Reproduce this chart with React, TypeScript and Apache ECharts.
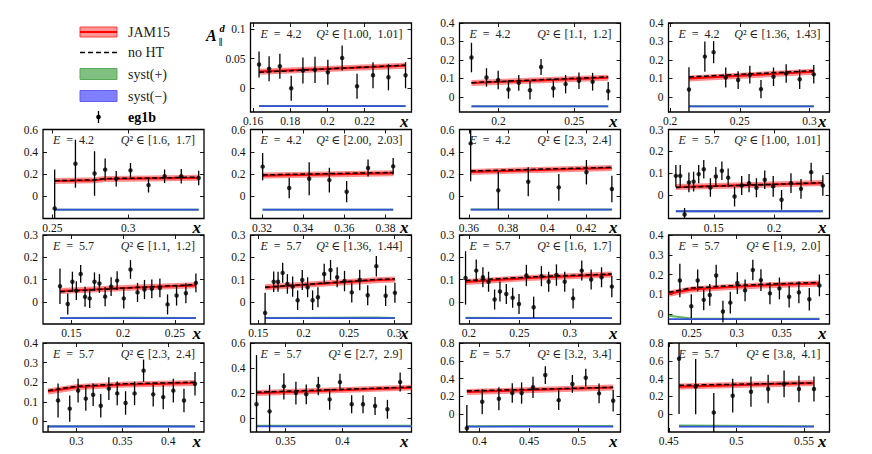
import React, { useEffect, useRef } from "react";
import * as echarts from "echarts";

const FONT = "Liberation Serif, DejaVu Serif, serif";

// ---- panel labels ----
const energy = ["4.2", "4.2", "4.2", "4.2", "4.2", "4.2", "5.7", "5.7", "5.7", "5.7", "5.7", "5.7", "5.7", "5.7", "5.7"];
const q2Bins = [
  "[1.00,  1.01]", "[1.1,  1.2]", "[1.36,  1.43]", "[1.6,  1.7]", "[2.00,  2.03]", "[2.3,  2.4]",
  "[1.00,  1.01]", "[1.1,  1.2]", "[1.36,  1.44]", "[1.6,  1.7]", "[1.9,  2.0]", "[2.3,  2.4]",
  "[2.7,  2.9]", "[3.2,  3.4]", "[3.8,  4.1]",
];

// ---- axis ranges and ticks ----
const xRanges = [
  [0.1586, 0.2452], [0.1743, 0.2805], [0.1988, 0.3144],
  [0.2438, 0.35], [0.3144, 0.3926], [0.3552, 0.4374], [0.1125, 0.2458],
  [0.1226, 0.2781], [0.1414, 0.319], [0.1907, 0.3503], [0.2243, 0.403],
  [0.2636, 0.4389], [0.3191, 0.4609], [0.3798, 0.5421], [0.4498, 0.5689],
];
const yRanges = [
  [-0.04, 0.11], [-0.082, 0.4], [-0.082, 0.4],
  [-0.2, 0.6], [-0.2, 0.6], [-0.2, 0.6], [-0.105, 0.3],
  [-0.1, 0.3], [-0.1, 0.3], [-0.1, 0.3], [-0.05, 0.4],
  [-0.054, 0.4], [-0.106, 0.6], [-0.2, 0.8], [-0.2, 0.8],
];
const xTicks = [
  [0.16, 0.18, 0.2, 0.22], [0.2, 0.25], [0.2, 0.25, 0.3],
  [0.25, 0.3], [0.32, 0.34, 0.36, 0.38], [0.36, 0.38, 0.4, 0.42], [0.15, 0.2],
  [0.15, 0.2, 0.25], [0.15, 0.2, 0.25, 0.3], [0.2, 0.25, 0.3], [0.25, 0.3, 0.35],
  [0.3, 0.35, 0.4], [0.35, 0.4], [0.4, 0.45, 0.5], [0.45, 0.5, 0.55],
];
const yTicks = [
  [0, 0.05, 0.1], [0, 0.1, 0.2, 0.3, 0.4], [0, 0.1, 0.2, 0.3, 0.4],
  [0, 0.2, 0.4, 0.6], [0, 0.2, 0.4, 0.6], [0, 0.2, 0.4, 0.6], [0, 0.1, 0.2, 0.3],
  [0, 0.1, 0.2, 0.3], [0, 0.1, 0.2, 0.3], [0, 0.1, 0.2, 0.3], [0, 0.1, 0.2, 0.3, 0.4],
  [0, 0.1, 0.2, 0.3, 0.4], [0, 0.2, 0.4, 0.6], [0, 0.2, 0.4, 0.6, 0.8], [0, 0.2, 0.4, 0.6, 0.8],
];

// ---- eg1b data: x, A_par, error ----
const x1 = [0.1632, 0.1686, 0.1744, 0.1805, 0.1868, 0.1933, 0.2002, 0.2079, 0.2159, 0.2245, 0.2328, 0.242];
const y1 = [0.04, 0.033, 0.037, 0.0, 0.03, 0.031, 0.027, 0.051, 0.0035, 0.022, 0.0185, 0.022];
const e1 = [0.022, 0.021, 0.021, 0.021, 0.022, 0.022, 0.021, 0.021, 0.021, 0.022, 0.022, 0.022];

const x2 = [0.1822, 0.1921, 0.1998, 0.2066, 0.2134, 0.2208, 0.2281, 0.2362, 0.2443, 0.2531, 0.2621, 0.2724];
const y2 = [0.213, 0.105, 0.091, 0.04, 0.076, 0.036, 0.162, 0.047, 0.069, 0.087, 0.082, 0.031];
const e2 = [0.08, 0.05, 0.05, 0.05, 0.043, 0.05, 0.043, 0.05, 0.05, 0.045, 0.048, 0.05];

const x3 = [0.2135, 0.2249, 0.2312, 0.2399, 0.2488, 0.2572, 0.2652, 0.2742, 0.2833, 0.293, 0.3031];
const y3 = [0.04, 0.218, 0.242, 0.105, 0.091, 0.12, 0.042, 0.109, 0.127, 0.095, 0.122];
const e3 = [0.12, 0.082, 0.06, 0.054, 0.048, 0.048, 0.049, 0.05, 0.05, 0.053, 0.05];

const x4 = [0.2515, 0.2652, 0.2778, 0.2848, 0.2921, 0.3015, 0.3134, 0.324, 0.335, 0.3465];
const y4 = [-0.109, 0.292, 0.204, 0.239, 0.157, 0.233, 0.1, 0.18, 0.18, 0.165];
const e4 = [0.35, 0.215, 0.2, 0.1, 0.07, 0.065, 0.066, 0.06, 0.065, 0.065];

const x5 = [0.3203, 0.3332, 0.3429, 0.3527, 0.3611, 0.3715, 0.3837];
const y5 = [0.266, 0.074, 0.157, 0.145, 0.041, 0.254, 0.269];
const e5 = [0.123, 0.093, 0.148, 0.111, 0.096, 0.076, 0.074];

const x6 = [0.3609, 0.375, 0.3903, 0.4059, 0.42, 0.433];
const y6 = [0.475, 0.053, 0.13, 0.08, 0.216, 0.065];
const e6 = [0.34, 0.17, 0.13, 0.12, 0.11, 0.12];

const x7 = [0.1186, 0.1222, 0.1258, 0.1294, 0.1333, 0.1375, 0.1417, 0.1472, 0.1517, 0.1567, 0.1619, 0.1672, 0.1731, 0.1792, 0.1853, 0.1922, 0.1992, 0.2061, 0.2139, 0.2222, 0.2306, 0.2403];
const y7 = [0.089, 0.089, -0.087, 0.059, 0.063, 0.097, 0.119, 0.036, 0.086, 0.112, 0.081, -0.005, 0.045, 0.056, 0.035, 0.071, 0.041, -0.02, 0.056, 0.03, 0.106, 0.045];
const e7 = [0.05, 0.05, 0.03, 0.045, 0.045, 0.042, 0.042, 0.042, 0.043, 0.042, 0.042, 0.045, 0.043, 0.041, 0.043, 0.042, 0.047, 0.045, 0.045, 0.045, 0.043, 0.047];

const x8 = [0.139, 0.1465, 0.151, 0.1548, 0.159, 0.1632, 0.1677, 0.1723, 0.1771, 0.1826, 0.1884, 0.1942, 0.2006, 0.2071, 0.2139, 0.2206, 0.2277, 0.2355, 0.2429, 0.2516, 0.2606, 0.2703];
const y8 = [0.07, -0.01, 0.09, 0.05, 0.125, 0.022, 0.015, 0.09, 0.082, 0.023, 0.068, 0.095, 0.015, 0.145, 0.042, 0.055, 0.058, 0.062, -0.012, 0.028, 0.038, 0.085];
const e8 = [0.08, 0.047, 0.045, 0.042, 0.04, 0.045, 0.043, 0.042, 0.042, 0.043, 0.042, 0.042, 0.045, 0.042, 0.043, 0.043, 0.042, 0.042, 0.045, 0.045, 0.045, 0.042];

const x9 = [0.1575, 0.167, 0.1718, 0.1769, 0.1821, 0.1879, 0.1934, 0.1985, 0.2044, 0.2099, 0.2158, 0.2227, 0.2297, 0.237, 0.2451, 0.2531, 0.2619, 0.2707, 0.2802, 0.2905, 0.3007];
const y9 = [-0.05, 0.09, 0.09, 0.13, 0.08, 0.068, 0.007, 0.098, 0.065, 0.007, 0.02, 0.125, 0.143, 0.11, 0.093, 0.042, 0.098, 0.029, 0.16, 0.027, 0.04];
const e9 = [0.09, 0.046, 0.045, 0.045, 0.044, 0.045, 0.044, 0.045, 0.045, 0.044, 0.045, 0.046, 0.045, 0.045, 0.046, 0.045, 0.046, 0.045, 0.046, 0.046, 0.045];

const x10 = [0.1967, 0.2073, 0.2139, 0.2195, 0.2255, 0.2308, 0.2371, 0.2434, 0.2497, 0.257, 0.2642, 0.2719, 0.2791, 0.2868, 0.295, 0.3033, 0.3119, 0.3212, 0.3315, 0.3417];
const y10 = [0.107, 0.14, 0.11, 0.09, 0.01, 0.046, 0.035, 0.018, -0.01, 0.118, -0.025, 0.115, 0.09, 0.12, 0.09, 0.015, 0.14, 0.1, 0.11, 0.068];
const e10 = [0.12, 0.05, 0.045, 0.045, 0.045, 0.045, 0.045, 0.045, 0.045, 0.048, 0.048, 0.045, 0.045, 0.048, 0.045, 0.045, 0.045, 0.045, 0.045, 0.048];

const x11 = [0.2246, 0.2369, 0.2496, 0.2567, 0.2634, 0.2701, 0.2772, 0.2847, 0.2929, 0.3007, 0.3093, 0.3179, 0.3269, 0.3369, 0.3474, 0.3582, 0.369, 0.3806, 0.3918];
const y11 = [0.45, 0.17, 0.04, 0.17, 0.072, 0.097, 0.195, 0.013, 0.058, 0.157, 0.12, 0.223, 0.172, 0.105, 0.13, 0.088, 0.11, 0.075, 0.145];
const e11 = [0.34, 0.085, 0.06, 0.055, 0.053, 0.055, 0.055, 0.055, 0.055, 0.055, 0.055, 0.052, 0.055, 0.055, 0.055, 0.055, 0.055, 0.057, 0.055];

const x12 = [0.2691, 0.28, 0.2927, 0.3018, 0.3102, 0.3182, 0.3265, 0.3353, 0.3444, 0.3535, 0.3633, 0.3731, 0.3836, 0.3945, 0.4055, 0.4171, 0.4291];
const y12 = [-0.1, 0.107, 0.065, 0.157, 0.116, 0.136, 0.08, 0.167, 0.143, 0.094, 0.143, 0.259, 0.138, 0.124, 0.157, 0.107, 0.192];
const e12 = [0.08, 0.087, 0.067, 0.061, 0.062, 0.058, 0.06, 0.058, 0.06, 0.06, 0.06, 0.057, 0.062, 0.062, 0.061, 0.06, 0.06];

const x13 = [0.3244, 0.3359, 0.3485, 0.3591, 0.3682, 0.3788, 0.3888, 0.3979, 0.4082, 0.4182, 0.4288, 0.4397, 0.4509];
const y13 = [0.114, 0.058, 0.256, 0.203, 0.193, 0.259, 0.153, 0.29, 0.114, 0.114, 0.1, 0.074, 0.29];
const e13 = [0.39, 0.21, 0.105, 0.09, 0.078, 0.074, 0.083, 0.066, 0.072, 0.072, 0.072, 0.075, 0.075];

const x14 = [0.3872, 0.4027, 0.4195, 0.433, 0.4424, 0.4539, 0.4663, 0.4798, 0.4936, 0.5071, 0.5205, 0.5347];
const y14 = [-0.158, 0.14, 0.174, 0.238, 0.238, 0.302, 0.44, 0.158, 0.34, 0.41, 0.234, 0.151];
const e14 = [0.26, 0.14, 0.13, 0.11, 0.12, 0.12, 0.1, 0.11, 0.1, 0.1, 0.11, 0.12];

const x15 = [0.4576, 0.4699, 0.4833, 0.4973, 0.5108, 0.5235, 0.5353, 0.5463, 0.5574];
const y15 = [0.623, 0.31, 0.019, 0.208, 0.253, 0.283, 0.34, 0.283, 0.283];
const e15 = [0.62, 0.31, 0.22, 0.19, 0.17, 0.16, 0.15, 0.15, 0.14];

// ---- theory curves (JAM15, no HT) and systematic bands, at nodes tx ----
const tx1 = [0.1632, 0.242]; const jam1 = [0.028, 0.038]; const nht1 = [0.027, 0.039]; const sp1 = [-0.03, -0.03]; const sm1 = [-0.03, -0.03];
const tx2 = [0.1822, 0.2724]; const jam2 = [0.075, 0.104]; const nht2 = [0.077, 0.108]; const sp2 = [-0.051, -0.051]; const sm2 = [-0.051, -0.051];
const tx3 = [0.2135, 0.3031]; const jam3 = [0.1, 0.136]; const nht3 = [0.108, 0.142]; const sp3 = [-0.051, -0.051]; const sm3 = [-0.051, -0.051];
const tx4 = [0.2515, 0.2778, 0.2848, 0.3134, 0.3465]; const jam4 = [0.137, 0.143, 0.155, 0.16, 0.166]; const nht4 = [0.14, 0.147, 0.16, 0.163, 0.172]; const sp4 = [-0.121, -0.121, -0.121, -0.121, -0.121]; const sm4 = [-0.121, -0.121, -0.121, -0.121, -0.121];
const tx5 = [0.3203, 0.3837]; const jam5 = [0.186, 0.207]; const nht5 = [0.192, 0.214]; const sp5 = [-0.121, -0.121]; const sm5 = [-0.121, -0.121];
const tx6 = [0.3609, 0.433]; const jam6 = [0.219, 0.254]; const nht6 = [0.227, 0.26]; const sp6 = [-0.118, -0.118]; const sm6 = [-0.121, -0.121];
const tx7 = [0.1186, 0.2403]; const jam7 = [0.038, 0.056]; const nht7 = [0.036, 0.058]; const sp7 = [-0.072, -0.072]; const sm7 = [-0.072, -0.072];
const tx8 = [0.139, 0.2071, 0.2703]; const jam8 = [0.048, 0.063, 0.074]; const nht8 = [0.045, 0.063, 0.077]; const sp8 = [-0.073, -0.072, -0.073]; const sm8 = [-0.074, -0.074, -0.074];
const tx9 = [0.1575, 0.2802, 0.3007]; const jam9 = [0.065, 0.097, 0.1]; const nht9 = [0.065, 0.1, 0.103]; const sp9 = [-0.073, -0.071, -0.073]; const sm9 = [-0.074, -0.074, -0.074];
const tx10 = [0.1967, 0.2642, 0.3417]; const jam10 = [0.089, 0.108, 0.122]; const nht10 = [0.095, 0.112, 0.125]; const sp10 = [-0.072, -0.073, -0.073]; const sm10 = [-0.074, -0.074, -0.074];
const tx11 = [0.2246, 0.2496, 0.2929, 0.3269, 0.3918]; const jam11 = [0.103, 0.125, 0.137, 0.145, 0.155]; const nht11 = [0.11, 0.132, 0.143, 0.15, 0.16]; const sp11 = [-0.008, -0.022, -0.023, -0.023, -0.023]; const sm11 = [-0.025, -0.025, -0.025, -0.025, -0.025];
const tx12 = [0.2691, 0.3018, 0.3535, 0.4291]; const jam12 = [0.153, 0.176, 0.188, 0.196]; const nht12 = [0.158, 0.18, 0.192, 0.2]; const sp12 = [-0.025, -0.025, -0.023, -0.025]; const sm12 = [-0.026, -0.026, -0.026, -0.026];
const tx13 = [0.3244, 0.4609]; const jam13 = [0.203, 0.246]; const nht13 = [0.209, 0.251]; const sp13 = [-0.056, -0.057]; const sm13 = [-0.061, -0.061];
const tx14 = [0.3872, 0.5347]; const jam14 = [0.25, 0.3]; const nht14 = [0.262, 0.302]; const sp14 = [-0.134, -0.132]; const sm14 = [-0.14, -0.14];
const tx15 = [0.4576, 0.5574]; const jam15 = [0.31, 0.35]; const nht15 = [0.325, 0.352]; const sp15 = [-0.127, -0.134]; const sm15 = [-0.14, -0.14];

const panels = [
  { x: x1, y: y1, e: e1, tx: tx1, jam: jam1, nht: nht1, sp: sp1, sm: sm1 },
  { x: x2, y: y2, e: e2, tx: tx2, jam: jam2, nht: nht2, sp: sp2, sm: sm2 },
  { x: x3, y: y3, e: e3, tx: tx3, jam: jam3, nht: nht3, sp: sp3, sm: sm3 },
  { x: x4, y: y4, e: e4, tx: tx4, jam: jam4, nht: nht4, sp: sp4, sm: sm4 },
  { x: x5, y: y5, e: e5, tx: tx5, jam: jam5, nht: nht5, sp: sp5, sm: sm5 },
  { x: x6, y: y6, e: e6, tx: tx6, jam: jam6, nht: nht6, sp: sp6, sm: sm6 },
  { x: x7, y: y7, e: e7, tx: tx7, jam: jam7, nht: nht7, sp: sp7, sm: sm7 },
  { x: x8, y: y8, e: e8, tx: tx8, jam: jam8, nht: nht8, sp: sp8, sm: sm8 },
  { x: x9, y: y9, e: e9, tx: tx9, jam: jam9, nht: nht9, sp: sp9, sm: sm9 },
  { x: x10, y: y10, e: e10, tx: tx10, jam: jam10, nht: nht10, sp: sp10, sm: sm10 },
  { x: x11, y: y11, e: e11, tx: tx11, jam: jam11, nht: nht11, sp: sp11, sm: sm11 },
  { x: x12, y: y12, e: e12, tx: tx12, jam: jam12, nht: nht12, sp: sp12, sm: sm12 },
  { x: x13, y: y13, e: e13, tx: tx13, jam: jam13, nht: nht13, sp: sp13, sm: sm13 },
  { x: x14, y: y14, e: e14, tx: tx14, jam: jam14, nht: nht14, sp: sp14, sm: sm14 },
  { x: x15, y: y15, e: e15, tx: tx15, jam: jam15, nht: nht15, sp: sp15, sm: sm15 },
];

// ---- layout ----
const COL_LEFT = [43, 250.5, 459.5, 668.5];
const ROW_TOP = [23, 129.5, 235, 343];
const W = 161;
const H = 89;

const fmt = (v: number) => String(parseFloat(Number(v).toFixed(4)));

function buildOption() {
  const grid: any[] = [];
  const xAxis: any[] = [];
  const yAxis: any[] = [];
  const series: any[] = [];
  const graphic: any[] = [];

  const tick = { inside: true, length: 4, lineStyle: { color: "#000", width: 0.9 } };
  const label = { color: "#111", fontFamily: FONT, fontSize: 11.5 };
  const noLine = { show: false, onZero: false };

  panels.forEach((p, i) => {
    const row = i < 3 ? 0 : Math.floor((i - 3) / 4) + 1;
    const col = i < 3 ? i + 1 : (i - 3) % 4;
    const left = COL_LEFT[col];
    const top = ROW_TOP[row];

    grid.push({
      left, top, width: W, height: H, show: true,
      borderColor: "#000", borderWidth: 1.3, backgroundColor: "rgba(0,0,0,0)",
      outerBoundsMode: "none", containLabel: false,
    });

    const [xmin, xmax] = xRanges[i];
    const [ymin, ymax] = yRanges[i];
    xAxis.push({
      type: "value", gridIndex: i, position: "bottom", min: xmin, max: xmax,
      axisLine: noLine, splitLine: { show: false },
      axisTick: { ...tick, customValues: xTicks[i] },
      axisLabel: { ...label, customValues: xTicks[i], formatter: fmt, margin: 3 },
    });
    xAxis.push({
      type: "value", gridIndex: i, position: "top", min: xmin, max: xmax,
      axisLine: noLine, splitLine: { show: false },
      axisTick: { ...tick, customValues: xTicks[i] },
      axisLabel: { show: false },
    });
    yAxis.push({
      type: "value", gridIndex: i, position: "left", min: ymin, max: ymax,
      axisLine: noLine, splitLine: { show: false },
      axisTick: { ...tick, customValues: yTicks[i] },
      axisLabel: { ...label, customValues: yTicks[i], formatter: fmt, margin: 5 },
    });
    yAxis.push({
      type: "value", gridIndex: i, position: "right", min: ymin, max: ymax,
      axisLine: noLine, splitLine: { show: false },
      axisTick: { ...tick, customValues: yTicks[i] },
      axisLabel: { show: false },
    });

    const xi = 2 * i;
    const yi = 2 * i;
    const common = { xAxisIndex: xi, yAxisIndex: yi, symbol: "none", silent: true, clip: true };

    series.push({ ...common, type: "line", z: 2, data: p.tx.map((x, k) => [x, p.sp[k]]), lineStyle: { color: "#5db55d", width: 2 } });
    series.push({ ...common, type: "line", z: 3, data: p.tx.map((x, k) => [x, p.sm[k]]), lineStyle: { color: "#3550d8", width: 1.8 } });
    series.push({ ...common, type: "line", z: 4, data: p.tx.map((x, k) => [x, p.jam[k]]), lineStyle: { color: "rgba(255,50,50,0.55)", width: 6 } });
    series.push({ ...common, type: "line", z: 5, data: p.tx.map((x, k) => [x, p.jam[k]]), lineStyle: { color: "#ff0000", width: 2.2 } });
    series.push({ ...common, type: "line", z: 6, data: p.tx.map((x, k) => [x, p.nht[k]]), lineStyle: { color: "#000", width: 1.5, type: [5, 2.5] } });
    series.push({
      type: "custom", xAxisIndex: xi, yAxisIndex: yi, z: 7, clip: true, silent: true,
      encode: { x: 0, y: [1, 2] },
      data: p.x.map((x, k) => [x, p.y[k] - p.e[k], p.y[k] + p.e[k]]),
      renderItem: (params: any, api: any) => {
        const x = api.value(0);
        const lo = api.coord([x, api.value(1)]);
        const hi = api.coord([x, api.value(2)]);
        return {
          type: "line",
          shape: { x1: lo[0], y1: lo[1], x2: hi[0], y2: hi[1] },
          style: { stroke: "#000", lineWidth: 1.3 },
        };
      },
    });
    series.push({
      type: "scatter", xAxisIndex: xi, yAxisIndex: yi, z: 8, clip: true, silent: true,
      symbol: "circle", symbolSize: 4.5, itemStyle: { color: "#000" },
      data: p.x.map((x, k) => [x, p.y[k]]),
    });

    // annotation texts
    graphic.push({
      type: "text", x: left + 10, y: top + 10.5, silent: true,
      style: {
        text: "{i|E}\u2002=\u2002" + energy[i],
        fontFamily: FONT, fontSize: 12, fill: "#222",
        verticalAlign: "middle", align: "left",
        rich: { i: { fontStyle: "italic", fontFamily: FONT, fontSize: 12, fill: "#222" } },
      },
    });
    graphic.push({
      type: "text", x: left + W - 9, y: top + 10.5, silent: true,
      style: {
        text: "{i|Q}² ∈ " + q2Bins[i], fontFamily: FONT, fontSize: 12, fill: "#222",
        verticalAlign: "middle", align: "right",
        rich: { i: { fontStyle: "italic", fontFamily: FONT, fontSize: 12, fill: "#222" } },
      },
    });
    graphic.push({
      type: "text", x: left + W - 3, y: top + H + 9, silent: true,
      style: {
        text: "x", fontFamily: FONT, fontSize: 17, fontWeight: "bold", fontStyle: "italic",
        fill: "#000", align: "right", verticalAlign: "middle",
      },
    });
  });

  // y-axis title on first panel
  graphic.push({ type: "text", x: 206, y: 35, silent: true, style: { text: "A", fontFamily: FONT, fontSize: 16, fontWeight: "bold", fontStyle: "italic", fill: "#000", verticalAlign: "middle" } });
  graphic.push({ type: "text", x: 219.5, y: 28, silent: true, style: { text: "d", fontFamily: FONT, fontSize: 10.5, fontWeight: "bold", fontStyle: "italic", fill: "#000", verticalAlign: "middle" } });
  graphic.push({ type: "text", x: 218.5, y: 42, silent: true, style: { text: "∥", fontFamily: FONT, fontSize: 9, fill: "#000", verticalAlign: "middle" } });

  // legend
  const LX = 80;
  const LW = 37;
  const TX = 128;
  const legendFont = { fontFamily: FONT, fontSize: 14, fill: "#222", verticalAlign: "middle" };
  graphic.push({ type: "rect", silent: true, shape: { x: LX, y: 27, width: LW, height: 10 }, style: { fill: "rgba(255,60,60,0.55)", stroke: "#ff4040", lineWidth: 1 } });
  graphic.push({ type: "line", silent: true, shape: { x1: LX, y1: 32, x2: LX + LW, y2: 32 }, style: { stroke: "#ff0000", lineWidth: 2 } });
  graphic.push({ type: "text", silent: true, x: TX, y: 32, style: { ...legendFont, text: "JAM15" } });
  graphic.push({ type: "line", silent: true, shape: { x1: LX, y1: 52.5, x2: LX + LW, y2: 52.5 }, style: { stroke: "#000", lineWidth: 1.5, lineDash: [5, 3] } });
  graphic.push({ type: "text", silent: true, x: TX, y: 52.5, style: { ...legendFont, text: "no HT" } });
  graphic.push({ type: "rect", silent: true, shape: { x: LX, y: 68.5, width: LW, height: 11 }, style: { fill: "#80c080", stroke: "#5aaa5a", lineWidth: 1 } });
  graphic.push({ type: "text", silent: true, x: TX, y: 74, style: { ...legendFont, text: "syst(+)" } });
  graphic.push({ type: "rect", silent: true, shape: { x: LX, y: 90.5, width: LW, height: 11 }, style: { fill: "#8080ff", stroke: "#6060f0", lineWidth: 1 } });
  graphic.push({ type: "text", silent: true, x: TX, y: 96, style: { ...legendFont, text: "syst(−)" } });
  graphic.push({ type: "line", silent: true, shape: { x1: 98.5, y1: 111, x2: 98.5, y2: 123 }, style: { stroke: "#000", lineWidth: 1.3 } });
  graphic.push({ type: "circle", silent: true, shape: { cx: 98.5, cy: 117, r: 2.3 }, style: { fill: "#000" } });
  graphic.push({ type: "text", silent: true, x: TX, y: 117, style: { ...legendFont, text: "eg1b", fontWeight: "bold", fill: "#000" } });

  return {
    animation: false,
    backgroundColor: "#fff",
    grid,
    xAxis,
    yAxis,
    series,
    graphic,
  };
}

export default function App() {
  const ref = useRef<HTMLDivElement>(null);
  useEffect(() => {
    if (!ref.current) return;
    const chart = echarts.init(ref.current, undefined, { renderer: "svg" });
    chart.setOption(buildOption() as any);
    return () => chart.dispose();
  }, []);
  return (
    <div
      ref={ref}
      style={{ position: "fixed", left: 0, top: 0, width: 872, height: 454, background: "#fff" }}
    />
  );
}
